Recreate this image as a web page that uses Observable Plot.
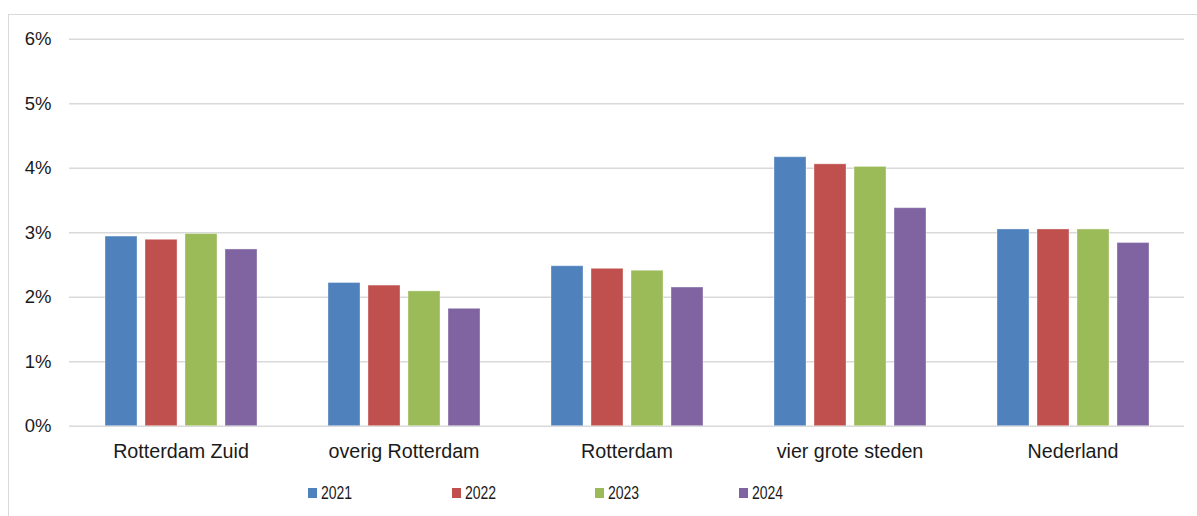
<!DOCTYPE html>
<html>
<head>
<meta charset="utf-8">
<script src="https://cdn.jsdelivr.net/npm/d3@7"></script>
<script src="https://cdn.jsdelivr.net/npm/@observablehq/plot@0.6"></script>
<style>
  html, body { margin: 0; padding: 0; background: #fff; overflow: hidden; }
  body { width: 1197px; height: 516px; position: relative; font-family: "Liberation Sans", Arial, sans-serif; }
  #frame { position: absolute; left: 7.5px; top: 13.5px; width: 1400px; height: 700px; border: 1px solid #d9d9d9; box-sizing: border-box; }
  #chart { position: absolute; left: 0; top: 0; }
  #legend { position: absolute; left: 308px; top: 483px; display: flex; font-family: "Liberation Sans", Arial, sans-serif; font-size: 17.5px; color: #1a1a1a; }
  #legend .item { width: 143.7px; display: flex; align-items: center; height: 20px; }
  #legend .sw { width: 9px; height: 9.5px; margin-right: 4px; flex: none; }
  #legend .txt { display: inline-block; transform: scaleX(0.8); transform-origin: left center; }
</style>
</head>
<body>
<div id="frame"></div>
<div id="chart"></div>
<div id="legend"></div>
<script>
const categories = ["Rotterdam Zuid", "overig Rotterdam", "Rotterdam", "vier grote steden", "Nederland"];
const years = ["2021", "2022", "2023", "2024"];
const v2021 = [2.94, 2.22, 2.48, 4.17, 3.05];
const v2022 = [2.89, 2.18, 2.44, 4.06, 3.05];
const v2023 = [2.98, 2.09, 2.41, 4.02, 3.05];
const v2024 = [2.74, 1.82, 2.15, 3.38, 2.84];
const yTicks = [0, 1, 2, 3, 4, 5, 6];
const yTickLabels = ["0%", "1%", "2%", "3%", "4%", "5%", "6%"];
const colors = ["#4F81BD", "#C0504D", "#9BBB59", "#8064A2"];

const series = [v2021, v2022, v2023, v2024];
const data = [];
categories.forEach((c, i) => {
  years.forEach((y, j) => data.push({category: c, year: y, value: series[j][i]}));
});

const chart = Plot.plot({
  width: 1197,
  height: 470,
  marginTop: 38.7,
  marginBottom: 44.3,
  marginLeft: 68,
  marginRight: 11.6,
  style: {fontFamily: "'Liberation Sans', Arial, sans-serif", color: "#1a1a1a", background: "transparent"},
  fx: {domain: categories, padding: 0, label: null},
  x: {domain: years, paddingInner: 0.21, paddingOuter: 0.855, axis: null},
  y: {domain: [0, 6], label: null},
  color: {domain: years, range: colors},
  marks: [
    Plot.gridY(yTicks, {stroke: "#d9d9d9", strokeOpacity: 1, strokeWidth: 1.4}),
    Plot.barY(data, {fx: "category", x: "year", y: "value", fill: "year", stroke: "#ffffff", strokeOpacity: 0.35, strokeWidth: 1}),
    Plot.axisY(yTicks, {tickSize: 0, tickPadding: 18, fontSize: 18.5, tickFormat: (d) => yTickLabels[yTicks.indexOf(d)], label: null}),
    Plot.axisFx({anchor: "bottom", tickSize: 0, tickPadding: 18, fontSize: 19.7, label: null})
  ]
});
document.getElementById("chart").appendChild(chart);

const legend = document.getElementById("legend");
years.forEach((y, j) => {
  const item = document.createElement("div");
  item.className = "item";
  const sw = document.createElement("span");
  sw.className = "sw";
  sw.style.background = colors[j];
  const t = document.createElement("span");
  t.className = "txt";
  t.textContent = y;
  item.appendChild(sw);
  item.appendChild(t);
  legend.appendChild(item);
});
</script>
</body>
</html>
